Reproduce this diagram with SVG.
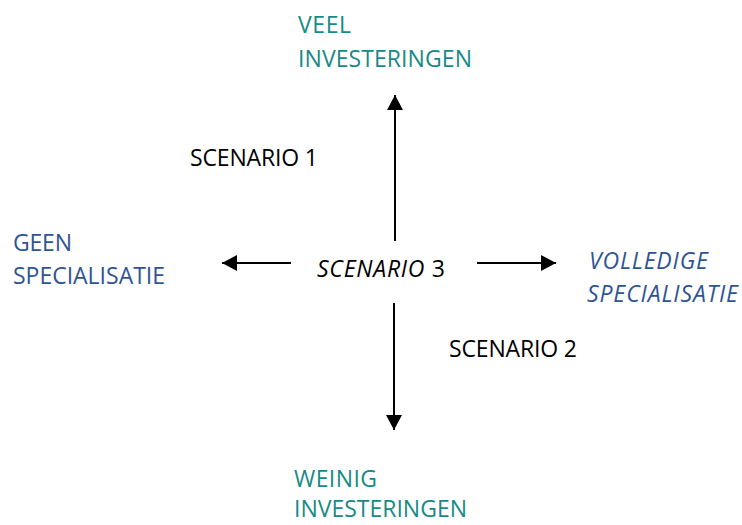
<svg xmlns="http://www.w3.org/2000/svg" width="742" height="525" viewBox="0 0 742 525">
<style>
text{font-family:"Open Sans","Noto Sans","Liberation Sans",sans-serif;font-size:23px}
.teal{fill:#178A87}
.blue{fill:#2F5496}
.blk{fill:#000}
.it{font-style:italic}
.conn line{stroke:#000;stroke-width:2;fill:none;marker-end:url(#ah)}
</style>
<defs>
<marker id="ah" markerUnits="userSpaceOnUse" markerWidth="16" markerHeight="16" refX="15" refY="8" orient="auto">
<path d="M0,0 L15,8 L0,16 z" fill="#000"/>
</marker>
</defs>
<rect width="742" height="525" fill="#fff"/>
<g id="veel-investeringen" class="teal">
<text x="298" y="33" textLength="53">VEEL</text>
<text x="298" y="67" textLength="174">INVESTERINGEN</text>
</g>
<g id="scenario1" class="blk">
<text x="190" y="166" textLength="128">SCENARIO 1</text>
</g>
<g id="geen-specialisatie" class="blue">
<text x="13" y="251" textLength="59">GEEN</text>
<text x="13" y="284" textLength="152">SPECIALISATIE</text>
</g>
<g id="scenario3" class="blk">
<text x="317" y="277" textLength="128"><tspan class="it">SCENARIO</tspan> 3</text>
</g>
<g id="volledige-specialisatie" class="blue it">
<text x="589" y="269" textLength="119">VOLLEDIGE</text>
<text x="587" y="302" textLength="151">SPECIALISATIE</text>
</g>
<g id="scenario2" class="blk">
<text x="449" y="357" textLength="128">SCENARIO 2</text>
</g>
<g id="weinig-investeringen" class="teal">
<text x="294" y="487" textLength="83">WEINIG</text>
<text x="294" y="517" textLength="173">INVESTERINGEN</text>
</g>
<g id="connectors" class="conn">
<line x1="395" y1="241" x2="395" y2="95"/>
<line x1="394" y1="303" x2="394" y2="430"/>
<line x1="291" y1="263" x2="222" y2="263"/>
<line x1="477" y1="263" x2="556" y2="263"/>
</g>
</svg>
